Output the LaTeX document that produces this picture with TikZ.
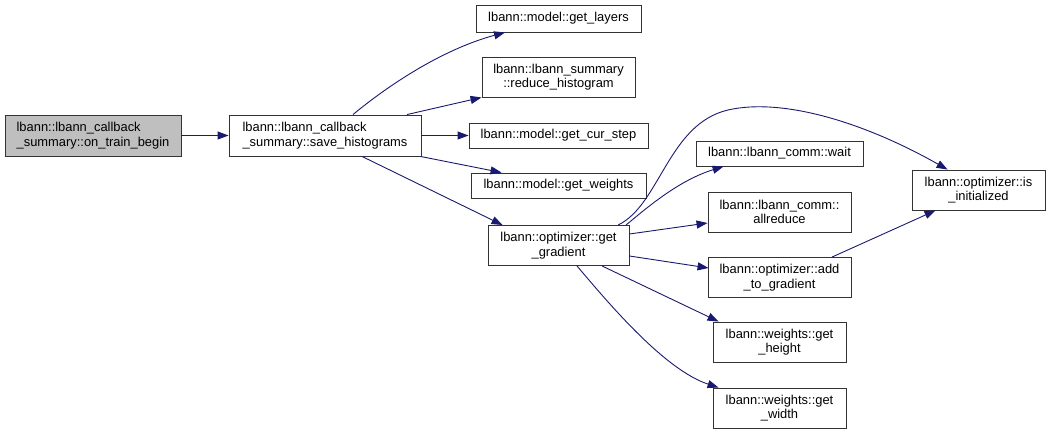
\documentclass[tikz,border=0pt]{standalone}
\usepackage{fontspec}
\setmainfont{Liberation Sans}
\usetikzlibrary{arrows.meta,calc}
\definecolor{edgeblue}{HTML}{191970}
\definecolor{rootgray}{HTML}{BFBFBF}
\tikzset{
  fnbox/.style={draw=black!80, line width=0.9pt, fill=white, inner sep=0pt,
    align=center, font=\fontsize{12.9}{14.5}\selectfont},
  edge/.style={draw=edgeblue, line width=0.9pt,
    -{Triangle[length=11pt,width=8pt]}},
}
\begin{document}
\begin{tikzpicture}[x=1pt,y=-1pt]
\useasboundingbox (0,0) rectangle (1051,433);
% nodes
\node[fnbox, fill=rootgray, align=left, minimum width=176pt, minimum height=41pt] (A) at (93,135.5) {lbann::lbann\_callback\\\_summary::on\_train\_begin};
\node[fnbox, align=left, minimum width=192pt, minimum height=41pt] (B) at (325,135.5) {lbann::lbann\_callback\\\_summary::save\_histograms};
\node[fnbox, minimum width=165pt, minimum height=27pt] (C) at (558.5,18.5) {lbann::model::get\_layers};
\node[fnbox, minimum width=153pt, minimum height=40pt] (D) at (558.5,77) {lbann::lbann\_summary\\::reduce\_histogram};
\node[fnbox, minimum width=179pt, minimum height=25pt] (E) at (558.5,135.5) {lbann::model::get\_cur\_step};
\node[fnbox, minimum width=175pt, minimum height=25pt] (F) at (558.5,185.5) {lbann::model::get\_weights};
\node[fnbox, minimum width=141pt, minimum height=40pt] (G) at (558.5,245.5) {lbann::optimizer::get\\\_gradient};
\node[fnbox, minimum width=167pt, minimum height=25pt] (H) at (779.5,153.5) {lbann::lbann\_comm::wait};
\node[fnbox, minimum width=143pt, minimum height=40pt] (I) at (779.5,212) {lbann::lbann\_comm::\\allreduce};
\node[fnbox, minimum width=143pt, minimum height=40pt] (J) at (779.5,277.5) {lbann::optimizer::add\\\_to\_gradient};
\node[fnbox, minimum width=133pt, minimum height=40pt] (K) at (779.5,342) {lbann::weights::get\\\_height};
\node[fnbox, minimum width=133pt, minimum height=40pt] (L) at (779.5,408) {lbann::weights::get\\\_width};
\node[fnbox, minimum width=133pt, minimum height=40pt] (M) at (978.5,190) {lbann::optimizer::is\\\_initialized};
% edges
\draw[edge] (A.east) -- (B.west);
\draw[edge] ($(B.north)+(28,0)$) .. controls (385,88) and (440,50) .. ($(C.south)+(-53.5,0)$);
\draw[edge] ($(B.north)+(82,0)$) -- (D.south west);
\draw[edge] (B.east) -- (E.west);
\draw[edge] ($(B.south east)+(-1,0)$) -- ($(F.north west)+(31,0)$);
\draw[edge] ($(B.south)+(37,0)$) -- ($(G.north west)+(15,0)$);
\draw[edge] ($(G.north)+(59.5,0)$) .. controls (660,205) and (668,124) .. (728,110)
   .. controls (780,98) and (860,120) .. ($(M.north west)+(36,0)$);
\draw[edge] ($(G.north)+(67.5,0)$) .. controls (650,205) and (680,180) .. ($(H.south west)+(28,0)$);
\draw[edge] ($(G.east)+(0,-11.5)$) -- ($(I.west)+(0,11)$);
\draw[edge] ($(G.east)+(0,10.5)$) -- ($(J.west)+(1,-9.5)$);
\draw[edge] ($(G.south)+(43.5,0)$) -- ($(K.north west)+(6,0)$);
\draw[edge] ($(G.south)+(18.5,0)$) .. controls (610,305) and (665,370) .. ($(L.north west)+(6,0)$);
\draw[edge] ($(J.north)+(52.5,0)$) -- ($(M.south west)+(24,0)$);
\end{tikzpicture}
\end{document}
